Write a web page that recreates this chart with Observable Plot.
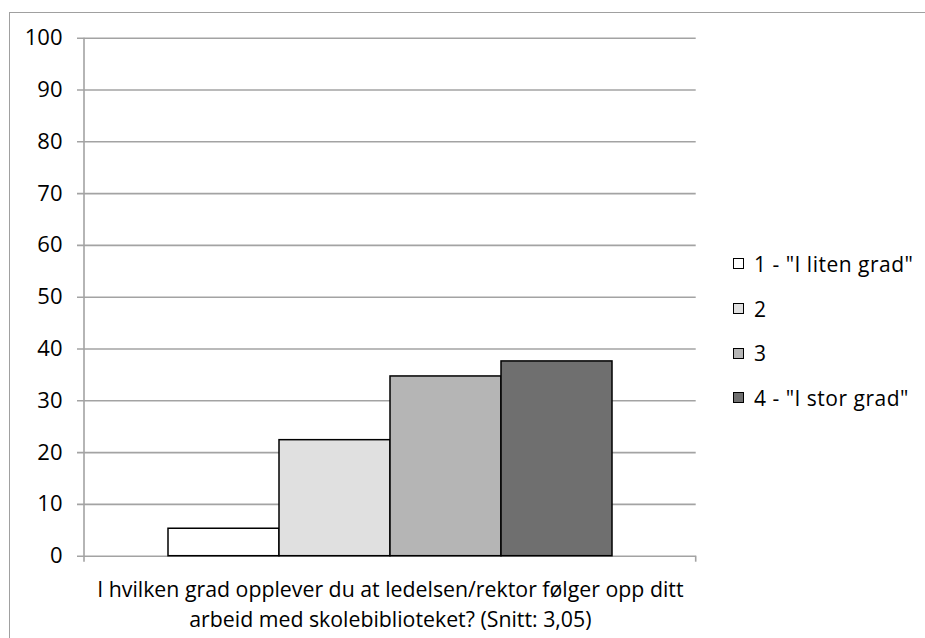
<!DOCTYPE html>
<html>
<head>
<meta charset="utf-8">
<script src="https://cdn.jsdelivr.net/npm/d3@7"></script>
<script src="https://cdn.jsdelivr.net/npm/@observablehq/plot@0.6"></script>
<style>
  html, body { margin: 0; padding: 0; background: #fff; overflow: hidden; }
  #wrap { position: relative; width: 925px; height: 638px; overflow: hidden; font-family: "Open Sans", sans-serif; }
  #frame { position: absolute; left: 9px; top: 12px; width: 940px; height: 660px; border: 1.5px solid #a0a0a0; box-sizing: border-box; }
  #chart { position: absolute; left: 0; top: 0; }
  #legend { position: absolute; left: 733px; top: 241.5px; font-size: 21px; letter-spacing: 0.5px; color: #000; }
  .item { display: flex; align-items: center; height: 44.7px; white-space: nowrap; }
  .sw { width: 11px; height: 11px; border: 1.3px solid #000; margin-right: 10px; box-sizing: border-box; }
</style>
</head>
<body>
<div id="wrap">
  <div id="frame"></div>
  <div id="chart"></div>
  <div id="legend"></div>
</div>
<script>
const series = ['1 - "I liten grad"', '2', '3', '4 - "I stor grad"'];
const values = [5.3, 22.4, 34.7, 37.6];
const colors = ["#ffffff", "#e0e0e0", "#b5b5b5", "#6f6f6f"];
const yTicks = [0, 10, 20, 30, 40, 50, 60, 70, 80, 90, 100];
const xLabel = "I hvilken grad opplever du at ledelsen/rektor følger opp ditt\narbeid med skolebiblioteket? (Snitt: 3,05)";

const data = series.map((s, i) => ({series: s, value: values[i]}));
const gridColor = "#a3a3a3";

function edges(index, scales, values, dims) {
  const g = d3.create("svg:g").attr("stroke", gridColor).attr("stroke-width", 1.6);
  const x0 = dims.marginLeft, x1 = dims.width - dims.marginRight;
  const yTop = dims.marginTop, yBot = dims.height - dims.marginBottom;
  g.append("line").attr("x1", x0).attr("x2", x0).attr("y1", yTop).attr("y2", yBot + 6);
  g.append("line").attr("x1", x1).attr("x2", x1).attr("y1", yBot).attr("y2", yBot + 6);
  return g.node();
}

const chart = Plot.plot({
  width: 925,
  height: 638,
  marginLeft: 84,
  marginRight: 229.3,
  marginTop: 37.7,
  marginBottom: 82.3,
  style: {fontFamily: "Open Sans, sans-serif", fontSize: "20px", color: "#000", background: "transparent"},
  x: {domain: series, paddingInner: 0, paddingOuter: 0.753, axis: null},
  y: {domain: [0, 100], axis: null},
  color: {domain: series, range: colors},
  marks: [
    Plot.ruleY(yTicks, {stroke: gridColor, strokeWidth: 1.6, insetLeft: -7}),
    edges,
    Plot.barY(data, {x: "series", y: "value", fill: "series", stroke: "#000", strokeWidth: 1.5}),
    Plot.axisY({ticks: yTicks, tickSize: 0, tickPadding: 22, fontSize: 22, fill: "#000", label: null}),
    Plot.text([xLabel], {frameAnchor: "bottom", lineAnchor: "top", dy: 20, lineHeight: 1.39, fontSize: 21.3, fill: "#000", text: d => d})
  ]
});
document.getElementById("chart").appendChild(chart);

const legend = document.getElementById("legend");
series.forEach((s, i) => {
  const item = document.createElement("div");
  item.className = "item";
  const sw = document.createElement("div");
  sw.className = "sw";
  sw.style.background = colors[i];
  const t = document.createElement("span");
  t.textContent = s;
  item.appendChild(sw);
  item.appendChild(t);
  legend.appendChild(item);
});
</script>
</body>
</html>
